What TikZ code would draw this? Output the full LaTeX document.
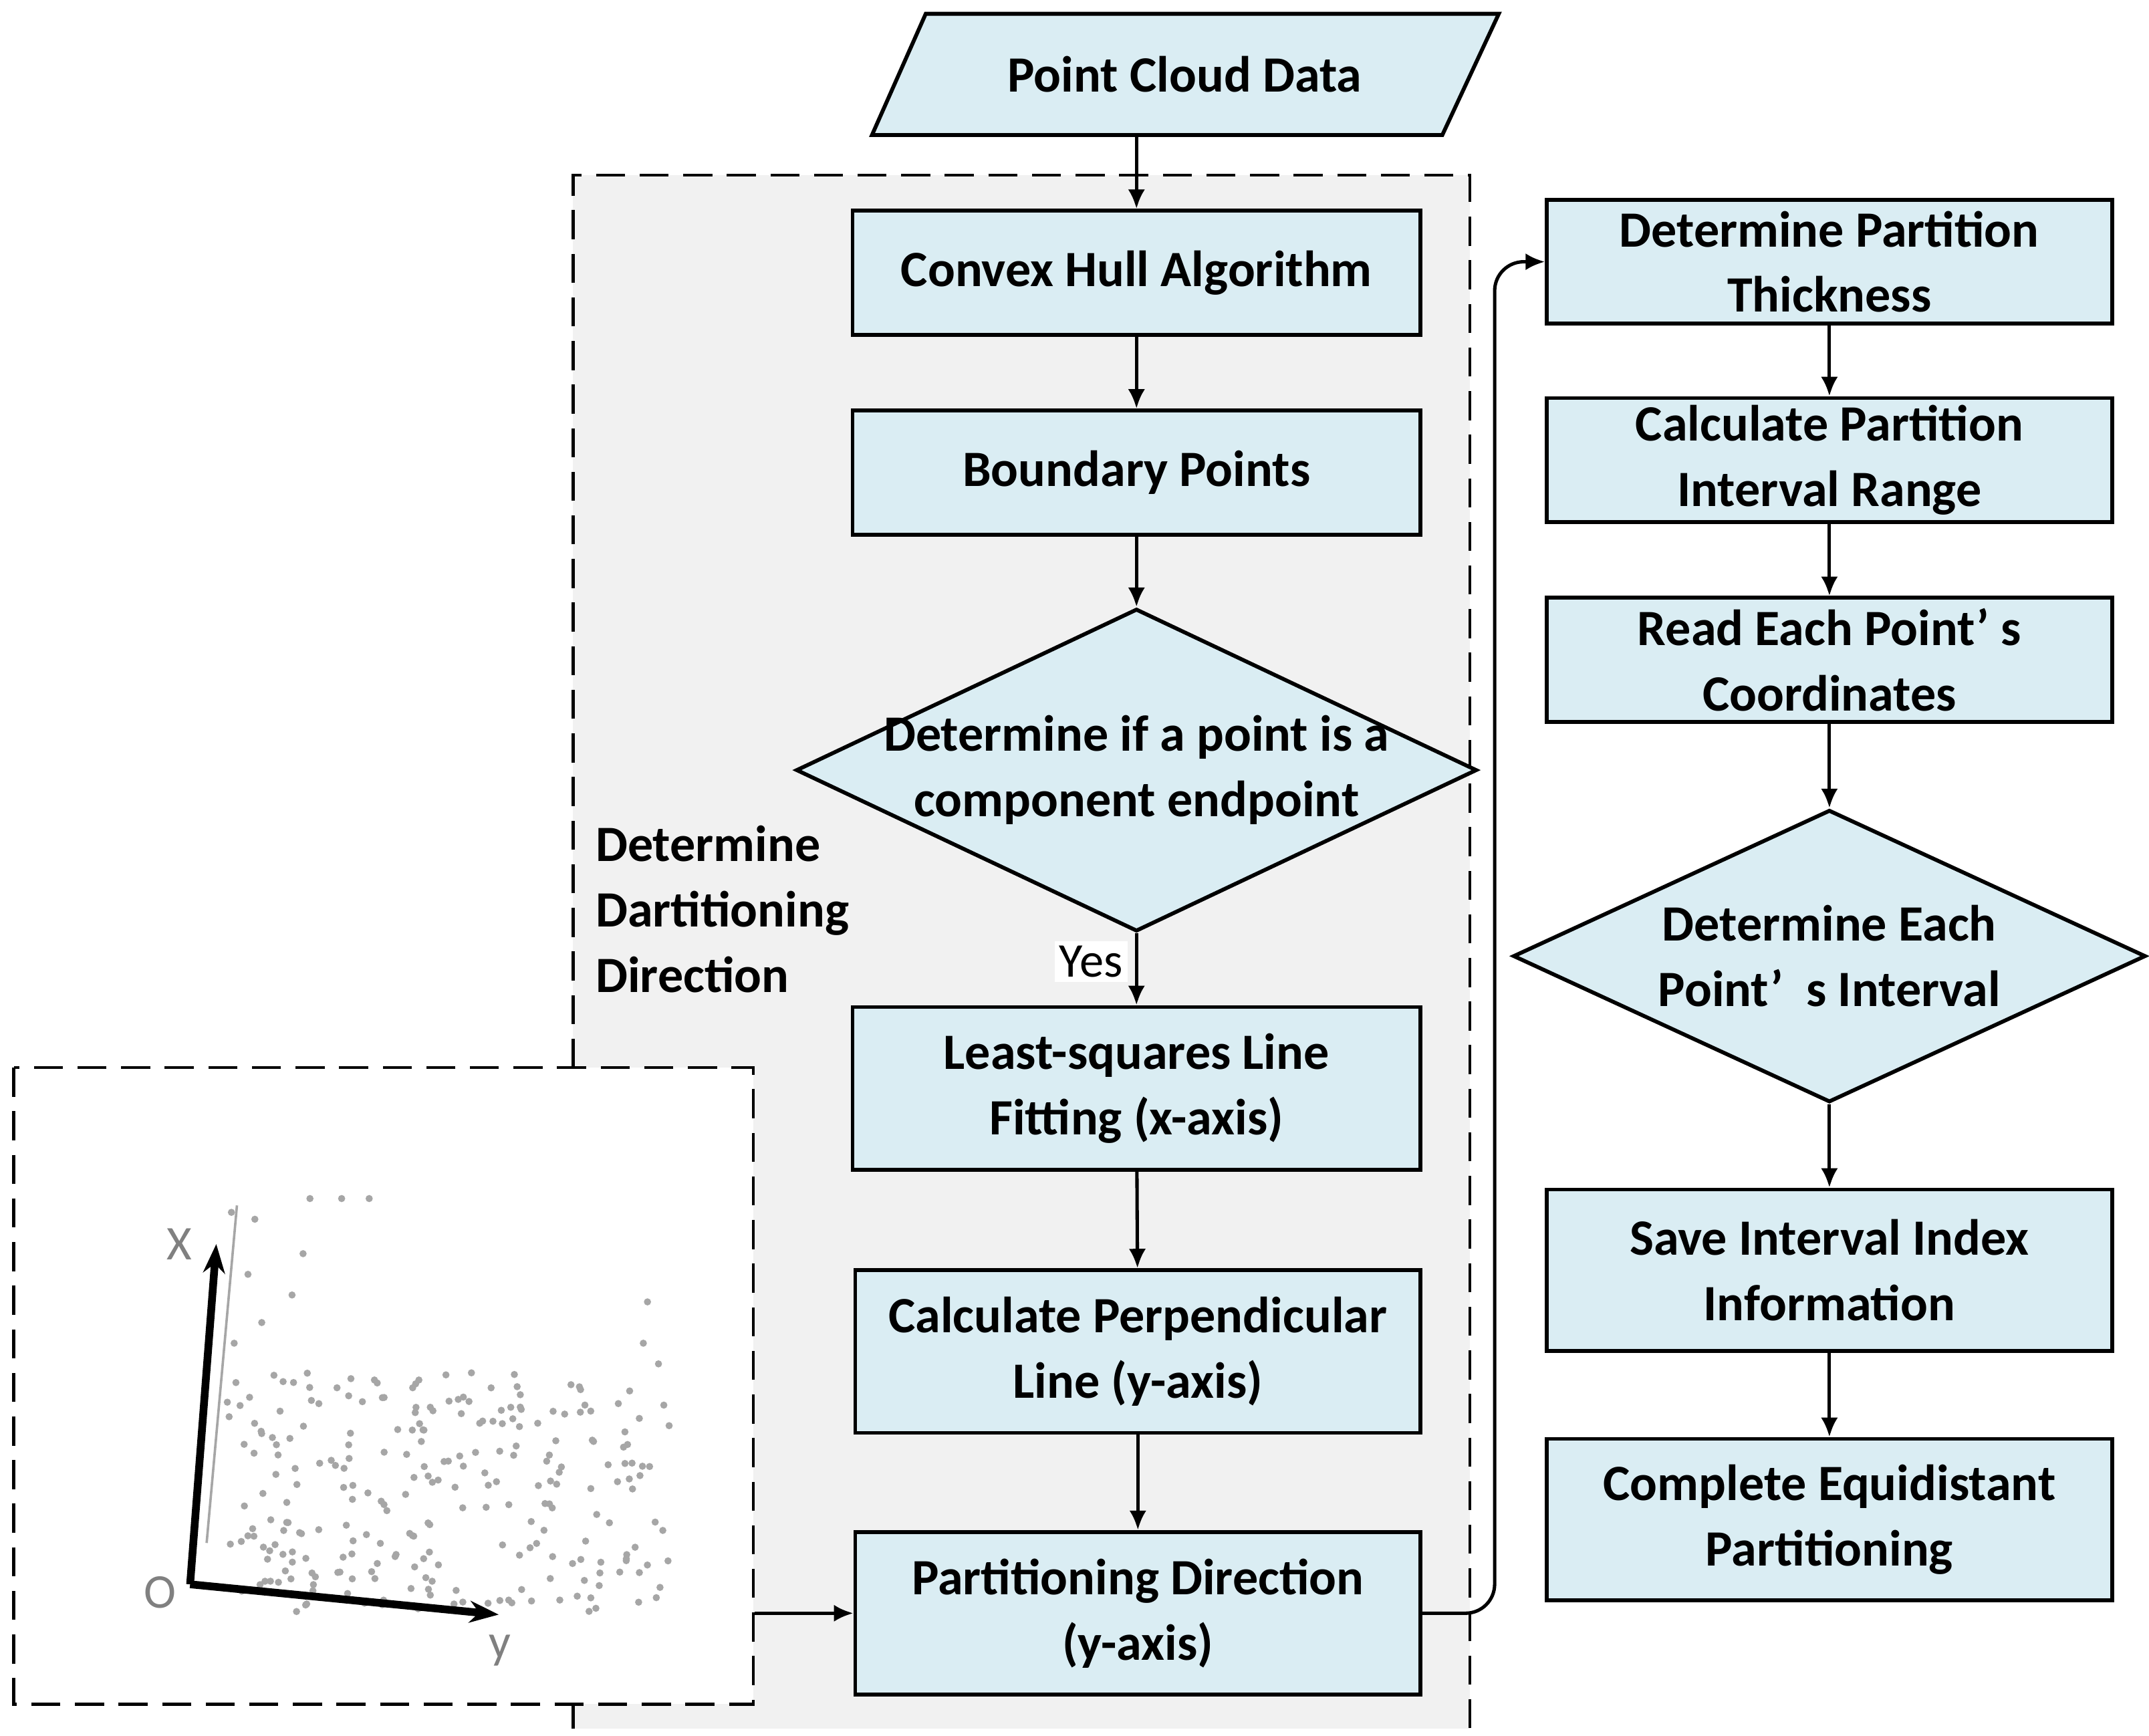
\documentclass[tikz,border=0pt]{standalone}
\usepackage{fontspec}
\setmainfont{Carlito}
\usetikzlibrary{shapes.geometric,arrows.meta}
\definecolor{boxfill}{HTML}{DAEDF3}
\definecolor{grayreg}{HTML}{F1F1F1}
\begin{document}
\begin{tikzpicture}[x=0.01cm,y=-0.01cm,
  box/.style={draw,fill=boxfill,line width=0.8pt,inner sep=0pt,align=center,font=\fontsize{10.5}{13.5}\selectfont\bfseries},
  arr/.style={-{Latex[length=4pt,width=3.5pt]},line width=0.7pt},
  dsh/.style={dash pattern=on 6pt off 3pt,line width=0.6pt}]
\useasboundingbox (0,0) rectangle (1560,1260);
% gray region
\fill[grayreg] (416,127) rectangle (1067,1255);
\draw[dsh] (416,775) -- (416,127) -- (1067,127) -- (1067,1255);
\draw[dsh] (416,1237) -- (416,1255);
% scatter box
\fill[white] (10,775) rectangle (547,1237);
\draw[dsh] (10,775) rectangle (547,1237);
\node[inner sep=0,minimum width=5.37cm,minimum height=4.62cm] (plot) at (278.5,1006) {};
% dots
\pgfmathsetseed{7}
\foreach \i in {1,...,260}{
  \pgfmathsetmacro{\px}{165+325*rnd}
  \pgfmathsetmacro{\py}{995+175*rnd}
  \fill[gray!70] (\px,\py) circle (2.6);
}
\foreach \p in {(168,880),(185,885),(225,870),(248,870),(268,870),(220,910),(180,925),(212,940),(470,945),(467,975),(478,990),(190,960),(170,975)}{
  \fill[gray!70] \p circle (2.6);}
\draw[gray!70,line width=0.5pt] (150,1120) -- (172,875);
\coordinate (O) at (138,1150);
\coordinate (Xe) at (157,903);
\coordinate (Ye) at (362,1172);
\draw[-{Stealth[length=6pt]},line width=1.6pt] (O) -- (Xe);
\draw[-{Stealth[length=6pt]},line width=1.6pt] (O) -- (Ye);
\node[text=gray,font=\fontsize{10}{12}\selectfont] (xl) at (130,903) {X};
\node[text=gray,font=\fontsize{10}{12}\selectfont] (ol) at (116,1156) {O};
\node[text=gray,font=\fontsize{10}{12}\selectfont] (yl) at (363,1198) {y};
% parallelogram
\fill[boxfill] (672,10) -- (1088,10) -- (1047,98) -- (633,98) -- cycle;
\draw[line width=0.8pt] (672,10) -- (1088,10) -- (1047,98) -- (633,98) -- cycle;
\node[inner sep=0,minimum width=4.14cm,minimum height=0.88cm,font=\fontsize{10.5}{13.5}\selectfont\bfseries] (pcd) at (860,54) {Point Cloud Data};
% left column
\node[box,minimum width=4.12cm,minimum height=0.9cm] (ch) at (825,198) {Convex Hull Algorithm};
\node[box,minimum width=4.12cm,minimum height=0.9cm] (bp) at (825,343) {Boundary Points};
\node[draw,fill=boxfill,line width=0.8pt,diamond,inner sep=0,minimum width=4.94cm,minimum height=2.34cm] (d1) at (825,559) {};
\node[align=center,font=\fontsize{10.5}{13.5}\selectfont\bfseries] at (825,559) {Determine if a point is a\\component endpoint};
\node[box,minimum width=4.12cm,minimum height=1.18cm] (ls) at (825,790) {Least-squares Line\\Fitting (x-axis)};
\node[box,minimum width=4.10cm,minimum height=1.18cm] (cp) at (826,981) {Calculate Perpendicular\\Line (y-axis)};
\node[box,minimum width=4.10cm,minimum height=1.18cm] (pd) at (826,1171) {Partitioning Direction\\(y-axis)};
\node[anchor=west,align=left,font=\fontsize{10.5}{13.5}\selectfont\bfseries] (lab) at (420,660) {Determine\\Dartitioning\\Direction};
\node[font=\fontsize{10}{12}\selectfont,fill=white,inner sep=1pt] (yes) at (792,698) {Yes};
% right column
\node[box,minimum width=4.10cm,minimum height=0.9cm] (r1) at (1328,190) {Determine Partition\\Thickness};
\node[box,minimum width=4.10cm,minimum height=0.9cm] (r2) at (1328,334) {Calculate Partition\\Interval Range};
\node[box,minimum width=4.10cm,minimum height=0.9cm] (r3) at (1328,479) {Read Each Point’ s\\Coordinates};
\node[draw,fill=boxfill,line width=0.8pt,diamond,inner sep=0,minimum width=4.59cm,minimum height=2.12cm] (d2) at (1328,694) {};
\node[align=center,font=\fontsize{10.5}{13.5}\selectfont\bfseries] at (1328,694) {Determine Each\\Point’\ \ s Interval};
\node[box,minimum width=4.10cm,minimum height=1.17cm] (r4) at (1328,922) {Save Interval Index\\Information};
\node[box,minimum width=4.10cm,minimum height=1.17cm] (r5) at (1328,1103) {Complete Equidistant\\Partitioning};
% arrows
\draw[arr] (pcd.south -| ch.north) -- (ch.north);
\draw[arr] (ch) -- (bp);
\draw[arr] (bp) -- (d1);
\draw[arr] (d1) -- (ls);
\draw[arr] (ls) -- (cp);
\draw[arr] (cp) -- (pd);
\draw[arr] (plot.east |- pd.west) -- (pd.west);
\draw[arr,rounded corners=6pt] (pd.east) -- (1085,1171) -- (1085,190) -- (r1.west);
\draw[arr] (r1) -- (r2);
\draw[arr] (r2) -- (r3);
\draw[arr] (r3) -- (d2);
\draw[arr] (d2) -- (r4);
\draw[arr] (r4) -- (r5);
\end{tikzpicture}
\end{document}
